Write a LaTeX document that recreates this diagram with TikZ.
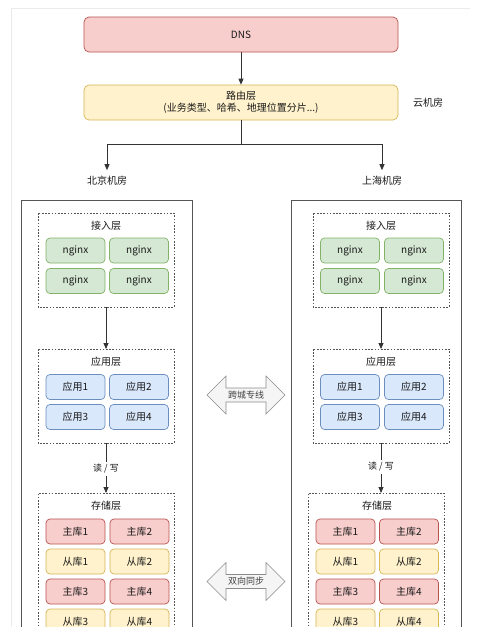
\documentclass[tikz,border=0pt]{standalone}
\usepackage{fontspec}
\setmainfont{Noto Sans CJK SC}
\usetikzlibrary{shapes.arrows,arrows.meta}
\definecolor{redF}{HTML}{F8CECC}\definecolor{redD}{HTML}{B85450}
\definecolor{yelF}{HTML}{FFF2CC}\definecolor{yelD}{HTML}{D6B656}
\definecolor{grnF}{HTML}{D5E8D4}\definecolor{grnD}{HTML}{82B366}
\definecolor{bluF}{HTML}{DAE8FC}\definecolor{bluD}{HTML}{6C8EBF}
\definecolor{lineC}{HTML}{333333}
\definecolor{frameC}{HTML}{555555}
\tikzset{
  x=1pt,y=-1pt,
  txt/.style={font=\fontsize{10}{12}\selectfont, text=black!90, inner sep=1pt},
  cell/.style={txt, draw, rounded corners=4pt, line width=0.7pt, minimum width=59pt, minimum height=25pt},
  ngx/.style={cell, fill=grnF, draw=grnD},
  app/.style={cell, fill=bluF, draw=bluD},
  mst/.style={cell, fill=redF, draw=redD},
  slv/.style={cell, fill=yelF, draw=yelD},
  layer/.style={draw=frameC, line width=0.7pt, dash pattern=on 1.6pt off 1.6pt},
  room/.style={draw=frameC, line width=0.8pt},
  conn/.style={draw=lineC, line width=0.8pt, -{Triangle[width=5pt,length=6pt]}},
  link/.style={double arrow, draw=black!45, fill=black!4, line width=0.6pt, txt,
     font=\fontsize{9}{10}\selectfont,
     minimum height=78pt, double arrow head extend=12pt, inner xsep=1pt, inner ysep=2.5pt, text=black!75},
}
\begin{document}
\begin{tikzpicture}
\useasboundingbox (0,0) rectangle (479,627);
\clip (0,0) rectangle (479,627);
\fill[white] (0,0) rectangle (479,627);
% faint page frame
\draw[black!8, line width=0.8pt] (11,627) -- (11,8) -- (470,8);

% top
\node[txt, draw=redD, fill=redF, rounded corners=5pt, line width=0.7pt, minimum width=314pt, minimum height=35pt] (dns) at (241,34.5) {DNS};
\node[txt, draw=yelD, fill=yelF, rounded corners=5pt, line width=0.7pt, minimum width=314pt, minimum height=35pt, align=center] (route) at (241,102.5) {路由层\\(业务类型、哈希、地理位置分片...)};
\node[txt] (cloud) at (428,103) {云机房};
\draw[conn] (dns) -- (route);
\coordinate (split) at (241,144);
\node[txt] (bj) at (107,181) {北京机房};
\node[txt] (sh) at (382,181) {上海机房};
\draw[draw=lineC, line width=0.8pt] (route.south) -- (split);
\draw[conn] (split) -| ([yshift=5pt]bj.north);
\draw[conn] (split) -| ([yshift=5pt]sh.north);

% rooms
\draw[room] (21,700) -- (21,200) -- (192,200) -- (192,700);
\draw[room] (291,700) -- (291,200) -- (461,200) -- (461,700);

% ---------- left (Beijing) ----------
\draw[layer] (38,213) rectangle (174,307);
\node[txt] (lt1) at (106,226) {接入层};
\node[ngx] (ln1) at (75.5,250.5) {nginx};
\node[ngx] (ln2) at (139,250.5) {nginx};
\node[ngx] (ln3) at (75.5,281) {nginx};
\node[ngx] (ln4) at (139,281) {nginx};
\coordinate (lacc) at (106,307);

\draw[layer] (38,349) rectangle (174,443);
\coordinate (lappT) at (106,349);
\node[txt] (lt2) at (106,362) {应用层};
\node[app] (la1) at (75.5,387) {应用1};
\node[app] (la2) at (139,387) {应用2};
\node[app] (la3) at (75.5,417) {应用3};
\node[app] (la4) at (139,417) {应用4};
\coordinate (lappB) at (106,443);

\draw[layer] (38,700) -- (38,493) -- (174,493) -- (174,700);
\coordinate (lstoT) at (106,493);
\node[txt] (lt3) at (106,506) {存储层};
\node[mst] (lm1) at (75.5,531.5) {主库1};
\node[mst] (lm2) at (139.5,531.5) {主库2};
\node[slv] (ls1) at (75.5,561.5) {从库1};
\node[slv] (ls2) at (139.5,561.5) {从库2};
\node[mst] (lm3) at (75.5,591.5) {主库3};
\node[mst] (lm4) at (139.5,591.5) {主库4};
\node[slv] (ls3) at (75.5,621.5) {从库3};
\node[slv] (ls4) at (139.5,621.5) {从库4};

\draw[conn] (lacc) -- (lappT);
\draw[conn] (lappB) -- (lstoT);
\node[txt, fill=white, inner sep=2pt, font=\fontsize{9}{10}\selectfont] (lrw) at (106,469) {读 / 写};

% ---------- right (Shanghai) ----------
\draw[layer] (313,213) rectangle (449,307);
\node[txt] (rt1) at (381,226) {接入层};
\node[ngx] (rn1) at (350,250.5) {nginx};
\node[ngx] (rn2) at (414,250.5) {nginx};
\node[ngx] (rn3) at (350,281) {nginx};
\node[ngx] (rn4) at (414,281) {nginx};
\coordinate (racc) at (381,307);

\draw[layer] (313,349) rectangle (449,443);
\coordinate (rappT) at (381,349);
\node[txt] (rt2) at (381,362) {应用层};
\node[app] (ra1) at (350,387) {应用1};
\node[app] (ra2) at (414,387) {应用2};
\node[app] (ra3) at (350,417) {应用3};
\node[app] (ra4) at (414,417) {应用4};
\coordinate (rappB) at (381,443);

\draw[layer] (308,700) -- (308,493) -- (444,493) -- (444,700);
\coordinate (rstoT) at (381,493);
\node[txt] (rt3) at (377,506) {存储层};
\node[mst] (rm1) at (345.5,531.5) {主库1};
\node[mst] (rm2) at (409,531.5) {主库2};
\node[slv] (rs1) at (345.5,561.5) {从库1};
\node[slv] (rs2) at (409,561.5) {从库2};
\node[mst] (rm3) at (345.5,591.5) {主库3};
\node[mst] (rm4) at (409,591.5) {主库4};
\node[slv] (rs3) at (345.5,621.5) {从库3};
\node[slv] (rs4) at (409,621.5) {从库4};

\draw[conn] (racc) -- (rappT);
\draw[conn] (rappB) -- (rstoT);
\node[txt, fill=white, inner sep=2pt, font=\fontsize{9}{10}\selectfont] (rrw) at (381,467) {读 / 写};

% ---------- links ----------
\node[link] (line1) at (246,395) {跨城专线};
\node[link] (line2) at (246,581.5) {双向同步};
\end{tikzpicture}
\end{document}
